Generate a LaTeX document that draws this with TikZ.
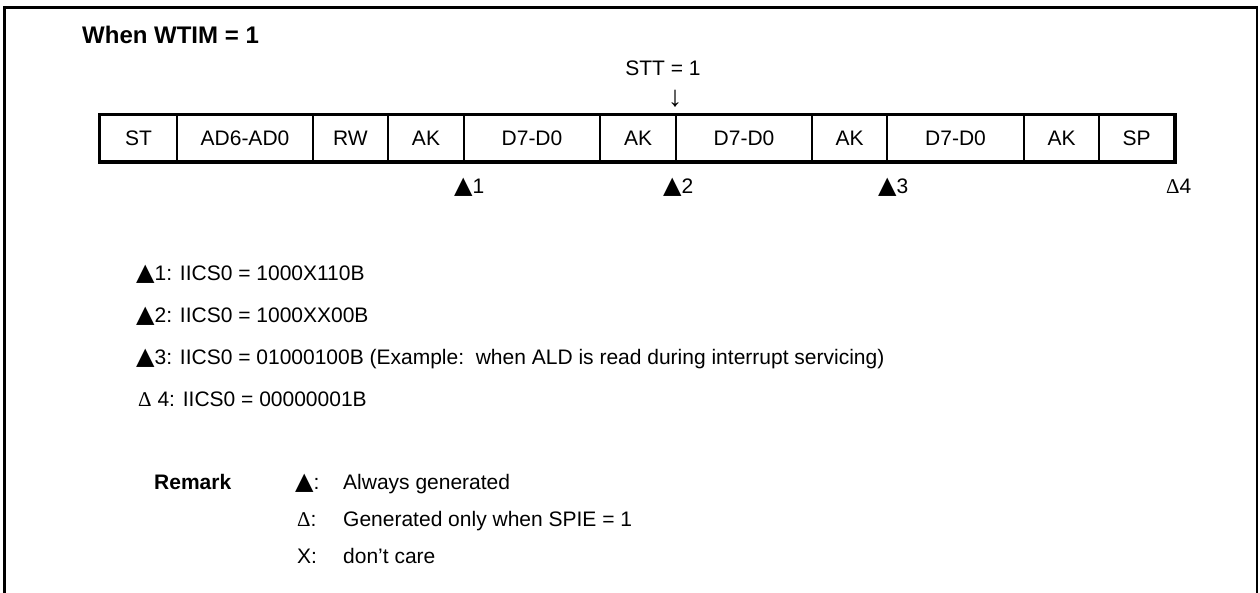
\documentclass[tikz,border=0pt]{standalone}
\usepackage{fontspec}
\setmainfont{Liberation Sans}
\newfontfamily\serf{Liberation Serif}
\newfontfamily\dvs{DejaVu Sans}
\newcommand{\dtri}{{\serf Δ}}
\newcommand{\ftri}{{\dvs\fontsize{24}{24}\selectfont ▲}}
\tikzset{
  body/.style={inner sep=0pt, anchor=base west, font=\fontsize{21}{24}\selectfont},
  cell/.style={draw, line width=1.8pt, minimum height=46pt, inner sep=0pt, font=\fontsize{21}{24}\selectfont}
}
\begin{document}
\begin{tikzpicture}[x=1pt,y=-1pt]
\useasboundingbox (0,0) rectangle (1260,592);
% frame
\draw[line width=2.5pt] (4.7,600) -- (4.7,7.3) -- (1257,7.3) -- (1257,600);
% title
\node[body, font=\fontsize{24}{28}\selectfont\bfseries] (title) at (82,43.6) {When WTIM = 1};
% STT
\node[body, anchor=base] (stt) at (663,75.5) {STT = 1};
\node[inner sep=0pt, font=\fontsize{29}{30}\selectfont] (arr) at (675,98.5) {↓};
% cells
\foreach \n/\l/\r/\t in {1/100/177/ST, 2/177/313/AD6-AD0, 3/313/388/RW, 4/388/464/AK, 5/464/600/D7-D0, 6/600/676/AK, 7/676/812/D7-D0, 8/812/887/AK, 9/887/1024/D7-D0, 10/1024/1099/AK, 11/1099/1174/SP}{
  \node[cell, minimum width={\r-\l}] (c\n) at ({(\l+\r)/2},138) {\t};
}
\draw[line width=3.2pt] (c1.north west) rectangle (c11.south east);
% markers
\node[body] (m1) at (454,193.5) {\ftri1};
\node[body] (m2) at (663,193.5) {\ftri2};
\node[body] (m3) at (878,193.5) {\ftri3};
\node[body] (m4) at (1166,193.5) {\dtri 4};
% list
\node[body] (l1) at (136,280.5) {\ftri1: IICS0 = 1000X110B};
\node[body] (l2) at (136,322.5) {\ftri2: IICS0 = 1000XX00B};
\node[body] (l3) at (136,364.5) {\ftri3: IICS0 = 01000100B (Example:\ \ when ALD is read during interrupt servicing)};
\node[body] (l4) at (138,406.5) {\dtri\ 4: IICS0 = 00000001B};
% remark
\node[body, font=\fontsize{21}{24}\selectfont\bfseries] (rem) at (154,489.5) {Remark};
\node[body] (r1k) at (295,489.5) {\ftri:};
\node[body] (r1) at (343,489.5) {Always generated};
\node[body] (r2k) at (297,526.5) {\dtri:};
\node[body] (r2) at (343,526.5) {Generated only when SPIE = 1};
\node[body] (r3k) at (297,563.5) {X:};
\node[body] (r3) at (343,563.5) {don’t care};
\end{tikzpicture}
\end{document}
